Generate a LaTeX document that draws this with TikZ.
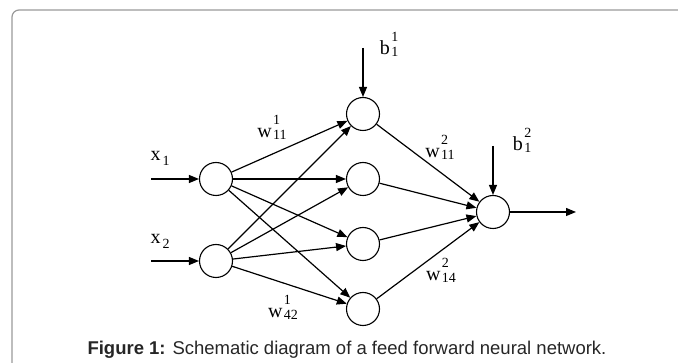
\documentclass[tikz,border=0pt]{standalone}
\usepackage{fontspec}
\setmainfont{Liberation Serif}
\setsansfont{Liberation Sans}
\usetikzlibrary{arrows.meta}
% letter with stacked indices, as in the figure
\newcommand{\idx}[3]{#1\hspace{1.5pt}\raisebox{-1.5pt}{\fontsize{14}{14}\selectfont
  \rlap{\raisebox{15pt}{#2}}#3}}
\newcommand{\sub}[2]{#1\hspace{2pt}\raisebox{-5pt}{\fontsize{14}{14}\selectfont #2}}
\tikzset{
  neuron/.style = {draw, circle, minimum size=33pt, inner sep=0pt, line width=1.1pt},
  wire/.style = {line width=1.2pt, -{Triangle[length=10pt,width=8pt]}},
  wlabel/.style = {font=\fontsize{20}{22}\selectfont, inner sep=0pt}
}
\begin{document}
\begin{tikzpicture}[x=1pt, y=-1pt]
  \useasboundingbox (0,0) rectangle (678,363);
  \draw [gray!80, line width=1.2pt, rounded corners=7pt]
    (12,380) -- (12,10) -- (700,10);
  % neurons
  \node [neuron] (i1) at (216,179) {};
  \node [neuron] (i2) at (216,261) {};
  \foreach \n/\y in {1/114, 2/179, 3/244, 4/309}
    \node [neuron] (h\n) at (363,\y) {};
  \node [neuron] (o) at (493,212) {};
  % free ends
  \coordinate (in1) at (151,179);
  \coordinate (in2) at (151,261);
  \coordinate (bias1) at (363,48);
  \coordinate (bias2) at (493,146);
  \coordinate (out) at (576,212);
  % connections
  \draw [wire] (in1) -- (i1);
  \draw [wire] (in2) -- (i2);
  \draw [wire] (bias1) -- (h1);
  \draw [wire] (bias2) -- (o);
  \draw [wire] (o) -- (out);
  \foreach \i in {1,2}
    \foreach \h in {1,...,4}
      \draw [wire] (i\i) -- (h\h);
  \foreach \h in {1,...,4}
    \draw [wire] (h\h) -- (o);
  % labels
  \node [wlabel] (lx1) at (160,158) {\sub{x}{1}};
  \node [wlabel] (lx2) at (160,241) {\sub{x}{2}};
  \node [wlabel] (lb1) at (389,44) {\idx{b}{1}{1}};
  \node [wlabel] (lb2) at (522,140) {\idx{b}{2}{1}};
  \node [wlabel] (lw111) at (272,127) {\idx{w}{1}{11}};
  \node [wlabel] (lw142) at (283,307) {\idx{w}{1}{42}};
  \node [wlabel] (lw211) at (440,147) {\idx{w}{2}{11}};
  \node [wlabel] (lw214) at (441,270) {\idx{w}{2}{14}};
  % caption
  \node [font=\sffamily\fontsize{18.5}{20}\selectfont, text=black!85] (cap) at (347,350)
    {\textbf{Figure 1:} Schematic diagram of a feed forward neural network.};
\end{tikzpicture}
\end{document}
